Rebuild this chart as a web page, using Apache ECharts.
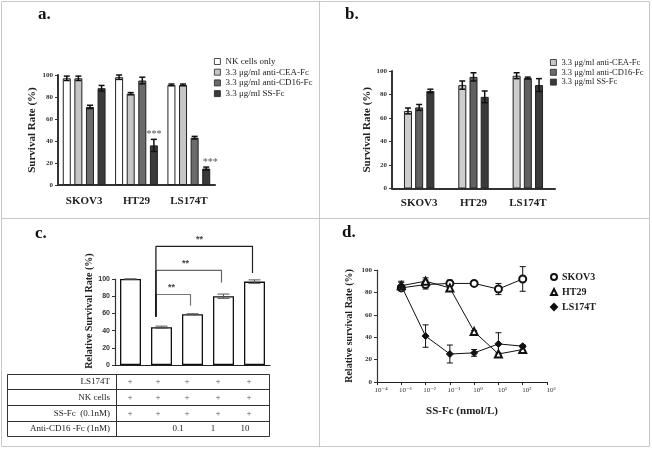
<!DOCTYPE html>
<html>
<head>
<meta charset="utf-8">
<title>Survival panels</title>
<script src="https://cdn.jsdelivr.net/npm/echarts@6/dist/echarts.min.js"></script>
</head>
<body style="margin:0">
<div id="main" style="width:652px;height:450px"></div>
<script>
var SERIF = '"Liberation Serif", "DejaVu Serif", serif';
var SANS = '"Liberation Sans", Arial, sans-serif';

// ---- panel a ----
var cellLinesA = ['SKOV3', 'HT29', 'LS174T'];
var treatA = ['NK cells only', '3.3 μg/ml anti-CEA-Fc', '3.3 μg/ml anti-CD16-Fc', '3.3 μg/ml SS-Fc'];
var nkOnlyA = [97, 98, 91];
var nkOnlyErrA = [2, 2, 0.8];
var ceaA = [97, 83, 91];
var ceaErrA = [2, 1, 0.8];
var cd16A = [71, 95, 43];
var cd16ErrA = [1.5, 3, 1.2];
var ssA = [88, 36, 15];
var ssErrA = [2.5, 5.5, 1.3];
var starsA = ['', '***', '***'];

// ---- panel b ----
var cellLinesB = ['SKOV3', 'HT29', 'LS174T'];
var treatB = ['3.3 μg/ml anti-CEA-Fc', '3.3 μg/ml anti-CD16-Fc', '3.3 μg/ml SS-Fc'];
var ceaB = [66, 88, 96];
var ceaErrB = [2.5, 3.5, 2.5];
var cd16B = [69, 95, 94];
var cd16ErrB = [2.5, 3.5, 0.8];
var ssB = [83, 78, 88];
var ssErrB = [1.5, 5, 5.5];

// ---- panel c ----
var groupsC = ['1', '2', '3', '4', '5'];
var relC = [100, 44, 59, 80, 97];
var relErrC = [0, 1.2, 0.6, 2.5, 2];
// [from bar, to bar, bracket height, right leg end]
var bracketsC = [[1, 2, 82, 69], [1, 3, 110, 96], [1, 4, 138, 107]];
var bracketLegC = 56;
var tableRowsC = ['LS174T', 'NK cells', 'SS-Fc  (0.1nM)', 'Anti-CD16 -Fc (1nM)'];
var tableCellsC = [
  ['+', '+', '+', '+', '+'],
  ['+', '+', '+', '+', '+'],
  ['+', '+', '+', '+', '+'],
  ['', '', '0.1', '1', '10']
];

// ---- panel d ----
var doseD = [1e-3, 1e-2, 1e-1, 1, 10, 100];
var skov3D = [84, 87, 88, 88, 83, 92];
var skov3ErrD = [2, 4, 3, 1, 5, 11];
var ht29D = [86, 90, 84, 45, 25, 29];
var ht29ErrD = [3, 3, 2, 1, 1, 2];
var ls174tD = [86, 41, 25, 26, 34, 32];
var ls174tErrD = [4, 10, 8, 3, 10, 1];

var chart = echarts.init(document.getElementById('main'));

var greysA = ['#ffffff', '#c6c6c6', '#6b6b6b', '#3a3a3a'];
var greysB = ['#cdcdcd', '#606060', '#3a3a3a'];

function errorBars(cap, color, width, offsetFn) {
  return function (params, api) {
    var v = api.value(1), e = api.value(2);
    var hi = api.coord([api.value(0), v + e]);
    var lo = api.coord([api.value(0), v - e]);
    var x = hi[0] + (offsetFn ? offsetFn(api.value(3)) : 0);
    var s = { stroke: color, lineWidth: width, fill: 'none' };
    var h = cap / 2;
    return {
      type: 'group',
      children: [
        { type: 'line', shape: { x1: x, y1: hi[1], x2: x, y2: lo[1] }, style: s },
        { type: 'line', shape: { x1: x - h, y1: hi[1], x2: x + h, y2: hi[1] }, style: s },
        { type: 'line', shape: { x1: x - h, y1: lo[1], x2: x + h, y2: lo[1] }, style: s }
      ]
    };
  };
}

function groupOffset(n, bw, gap) {
  var total = n * bw + (n - 1) * gap;
  return function (k) { return -total / 2 + bw / 2 + k * (bw + gap); };
}

function errData(lists) {
  var out = [];
  lists.forEach(function (pair, k) {
    pair[0].forEach(function (v, i) { out.push([i, v, pair[1][i], k]); });
  });
  return out;
}

function barAxisX(grid, cats, margin) {
  return {
    gridIndex: grid, type: 'category', data: cats,
    axisLine: { lineStyle: { color: '#333', width: 2 } },
    axisTick: { alignWithLabel: true, length: 3, lineStyle: { color: '#333' } },
    axisLabel: { fontFamily: SERIF, fontWeight: 'bold', fontSize: 11, color: '#222', margin: margin }
  };
}

function valueAxisY(grid, name, gap, nameSize, labelFont, namePad) {
  return {
    gridIndex: grid, type: 'value', min: 0, max: 100, interval: 20,
    splitLine: { show: false },
    axisLine: { show: true, lineStyle: { color: '#333', width: grid < 2 ? 2 : 1.2 } },
    axisTick: { show: true, length: 3, lineStyle: { color: '#333' } },
    axisLabel: { fontFamily: labelFont, fontWeight: 'bold', fontSize: 7, margin: 5, color: '#333' },
    name: name, nameLocation: 'middle', nameGap: gap,
    nameTextStyle: { fontFamily: SERIF, fontWeight: 'bold', fontSize: nameSize, color: '#222', padding: namePad || 0 }
  };
}

var sup = { '-': '⁻', '0': '⁰', '1': '¹', '2': '²', '3': '³', '4': '⁴' };

var series = [];
var listsA = [nkOnlyA, ceaA, cd16A, ssA];
listsA.forEach(function (vals, k) {
  series.push({
    type: 'bar', name: treatA[k], xAxisIndex: 0, yAxisIndex: 0,
    barWidth: 8, barGap: '45%',
    itemStyle: { color: greysA[k], borderColor: '#222', borderWidth: 1 },
    data: vals.map(function (v, i) {
      if (k === 3 && starsA[i]) {
        return {
          value: v,
          label: {
            show: true, position: 'top', formatter: starsA[i],
            distance: ssErrA[i] * 1.09, offset: [i === 2 ? 4 : 0, 0],
            fontFamily: SERIF, fontSize: 10, color: '#555'
          }
        };
      }
      return v;
    })
  });
});
series.push({
  type: 'custom', xAxisIndex: 0, yAxisIndex: 0, z: 5,
  renderItem: errorBars(6, '#111', 1.5, groupOffset(4, 8, 3.6)),
  data: errData([[nkOnlyA, nkOnlyErrA], [ceaA, ceaErrA], [cd16A, cd16ErrA], [ssA, ssErrA]])
});

var listsB = [ceaB, cd16B, ssB];
listsB.forEach(function (vals, k) {
  series.push({
    type: 'bar', name: treatB[k], xAxisIndex: 1, yAxisIndex: 1,
    barWidth: 8, barGap: '40%',
    itemStyle: { color: greysB[k], borderColor: '#222', borderWidth: 1 },
    data: vals
  });
});
series.push({
  type: 'custom', xAxisIndex: 1, yAxisIndex: 1, z: 5,
  renderItem: errorBars(6, '#111', 1.5, groupOffset(3, 8, 3.2)),
  data: errData([[ceaB, ceaErrB], [cd16B, cd16ErrB], [ssB, ssErrB]])
});

series.push({
  type: 'bar', name: 'relative', xAxisIndex: 2, yAxisIndex: 2,
  barWidth: 21,
  itemStyle: { color: '#fff', borderColor: '#111', borderWidth: 1.3 },
  data: relC
});
series.push({
  type: 'custom', xAxisIndex: 2, yAxisIndex: 2, z: 5,
  renderItem: errorBars(12, '#555', 1, null),
  data: relC.map(function (v, i) { return [i, v, relErrC[i]]; })
});
var bracketColors = ['#777', '#666', '#222'];
series.push({
  type: 'custom', xAxisIndex: 2, yAxisIndex: 2, z: 6,
  renderItem: function (params, api) {
    var from = api.value(0), to = api.value(1), top = api.value(2), end = api.value(3);
    var bw = api.size([1, 0])[0];
    var pTop = api.coord([from, top]);
    var xl = pTop[0] - bw * 0.18;
    var xr = api.coord([to, top])[0] - 2;
    var yEnd = api.coord([to, end])[1];
    var yLeg = api.coord([from, bracketLegC])[1];
    var s = { stroke: bracketColors[params.dataIndex], lineWidth: 1.2, fill: 'none' };
    return {
      type: 'group',
      children: [
        { type: 'line', shape: { x1: xl, y1: pTop[1], x2: xl, y2: yLeg }, style: { stroke: '#111', lineWidth: 1.2, fill: 'none' } },
        { type: 'polyline', shape: { points: [[xl, pTop[1]], [xr, pTop[1]], [xr, yEnd]] }, style: s },
        { type: 'text', x: xl + (xr - xl) * 0.45, y: pTop[1] - 2,
          style: { text: '**', fill: '#444', font: 'bold 9px ' + SANS, textAlign: 'center', textVerticalAlign: 'bottom' } }
      ]
    };
  },
  data: bracketsC
});

var linesD = [[skov3D, skov3ErrD, 'SKOV3', 'emptyCircle'], [ht29D, ht29ErrD, 'HT29', 'emptyTriangle'], [ls174tD, ls174tErrD, 'LS174T', 'diamond']];
linesD.forEach(function (d) {
  series.push({
    type: 'line', name: d[2], xAxisIndex: 3, yAxisIndex: 3, z: 4,
    symbol: d[3], symbolSize: 7, color: '#111',
    lineStyle: { color: '#111', width: 1 },
    itemStyle: { color: '#111', borderColor: '#111', borderWidth: 1 },
    data: doseD.map(function (x, i) { return [x, d[0][i]]; })
  });
  series.push({
    type: 'custom', xAxisIndex: 3, yAxisIndex: 3, z: 3,
    renderItem: errorBars(6, '#111', 1, null),
    data: doseD.map(function (x, i) { return [x, d[0][i], d[1][i]]; })
  });
});

var border = { stroke: '#c8c8c8', lineWidth: 1 };
var graphic = [
  { type: 'rect', shape: { x: 1.5, y: 1.5, width: 648, height: 445 }, style: { fill: 'none', stroke: '#c8c8c8', lineWidth: 1 } },
  { type: 'line', shape: { x1: 319.5, y1: 1, x2: 319.5, y2: 447 }, style: border },
  { type: 'line', shape: { x1: 1, y1: 218.5, x2: 650, y2: 218.5 }, style: border }
];
[['a.', 38, 15], ['b.', 345, 15], ['c.', 35, 234], ['d.', 342, 233]].forEach(function (t) {
  graphic.push({ type: 'text', x: t[1], y: t[2], style: { text: t[0], font: 'bold 17px ' + SERIF, fill: '#111', textVerticalAlign: 'middle' } });
});

// table under panel c
var rowLinesY = [374.5, 389.5, 405.5, 421.5, 436.5];
var tableStroke = { stroke: '#333', lineWidth: 1 };
rowLinesY.forEach(function (y) {
  graphic.push({ type: 'line', shape: { x1: 7.5, y1: y, x2: 269.5, y2: y }, style: tableStroke });
});
[7.5, 116.5, 269.5].forEach(function (x) {
  graphic.push({ type: 'line', shape: { x1: x, y1: 374.5, x2: x, y2: 436.5 }, style: tableStroke });
});
var colX = [130, 158, 187, 218, 249];
var lastRowX = [130, 158, 178, 213, 245];
tableRowsC.forEach(function (label, r) {
  var cy = (rowLinesY[r] + rowLinesY[r + 1]) / 2;
  graphic.push({ type: 'text', x: 110, y: cy, style: { text: label, font: '9px ' + SERIF, fill: '#222', textAlign: 'right', textVerticalAlign: 'middle' } });
  tableCellsC[r].forEach(function (cell, c) {
    if (!cell) return;
    graphic.push({ type: 'text', x: (r === 3 ? lastRowX : colX)[c], y: cy,
      style: { text: cell, font: '9px ' + SERIF, fill: r === 3 ? '#222' : '#555', textAlign: 'center', textVerticalAlign: 'middle' } });
  });
});

var option = {
  animation: false,
  backgroundColor: '#fff',
  grid: [
    { left: 58, top: 75, width: 157, height: 110, outerBoundsMode: 'none' },
    { left: 392, top: 71, width: 163, height: 117.5, outerBoundsMode: 'none' },
    { left: 115, top: 279, width: 155, height: 86, outerBoundsMode: 'none' },
    { left: 377, top: 270, width: 170, height: 112, outerBoundsMode: 'none' }
  ],
  legend: [
    {
      data: treatA, orient: 'vertical', left: 214, top: 57, padding: 0,
      icon: 'rect', itemWidth: 6, itemHeight: 6, itemGap: 1.7,
      itemStyle: { borderWidth: 0.8 },
      textStyle: { fontFamily: SERIF, fontSize: 9, lineHeight: 6, color: '#222' }
    },
    {
      data: treatB, orient: 'vertical', left: 550, top: 58, padding: 0,
      icon: 'rect', itemWidth: 6, itemHeight: 6, itemGap: 0.8,
      itemStyle: { borderWidth: 0.8 },
      textStyle: { fontFamily: SERIF, fontSize: 8.5, lineHeight: 6, color: '#222' }
    },
    {
      data: [{ name: 'SKOV3', icon: 'emptyCircle' }, { name: 'HT29', icon: 'emptyTriangle' }, { name: 'LS174T', icon: 'diamond' }],
      orient: 'vertical', left: 550, top: 272, padding: 0,
      itemWidth: 6, itemHeight: 6, itemGap: 5,
      textStyle: { fontFamily: SERIF, fontWeight: 'bold', fontSize: 10, color: '#222' }
    }
  ],
  xAxis: [
    barAxisX(0, cellLinesA, 11),
    barAxisX(1, cellLinesB, 9),
    {
      gridIndex: 2, type: 'category', data: groupsC,
      axisLine: { lineStyle: { color: '#222', width: 1.2 } },
      axisTick: { alignWithLabel: true, length: 3, lineStyle: { color: '#222' } },
      axisLabel: { show: false }
    },
    {
      gridIndex: 3, type: 'log', logBase: 10, min: 1e-4, max: 1e3,
      splitLine: { show: false }, minorTick: { show: false },
      axisLine: { lineStyle: { color: '#222', width: 1.2 } },
      axisTick: { length: 3, lineStyle: { color: '#222' } },
      axisLabel: {
        fontFamily: SERIF, fontSize: 7, color: '#333', margin: 5, padding: [0, 0, 0, 8],
        formatter: function (v) {
          var n = String(Math.round(Math.log(v) / Math.LN10));
          return '10' + n.split('').map(function (ch) { return sup[ch]; }).join('');
        }
      },
      name: 'SS-Fc (nmol/L)', nameLocation: 'middle', nameGap: 24,
      nameTextStyle: { fontFamily: SERIF, fontWeight: 'bold', fontSize: 11, color: '#222' }
    }
  ],
  yAxis: [
    valueAxisY(0, 'Survival Rate (%)', 20, 11, SERIF),
    valueAxisY(1, 'Survival Rate (%)', 18, 11, SERIF),
    valueAxisY(2, 'Relative Survival Rate (%)', 19, 10, SANS, [0, 0, 0, 22]),
    valueAxisY(3, 'Relative survival Rate (%)', 23, 10, SERIF)
  ],
  series: series,
  graphic: graphic
};

chart.setOption(option);
</script>
</body>
</html>
